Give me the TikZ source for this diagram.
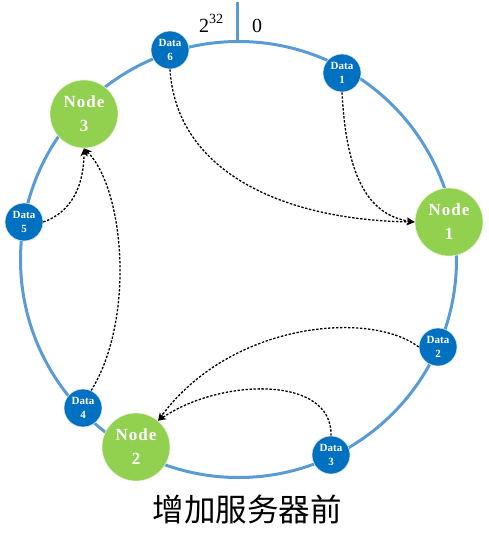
\documentclass[tikz,border=0pt]{standalone}
\usepackage{fontspec}
\setmainfont{Liberation Serif}
\newfontfamily\cjkfont{Noto Sans CJK SC}
\newfontfamily\nodefnt[LetterSpace=6]{Liberation Serif}
\usetikzlibrary{arrows.meta}
\definecolor{ringblue}{RGB}{91,155,213}
\definecolor{datablue}{RGB}{0,112,192}
\definecolor{nodegreen}{RGB}{146,208,80}
\begin{document}
\begin{tikzpicture}[x=1pt,y=-1pt,
  ring/.style={draw=ringblue,line width=3pt},
  datanode/.style={circle,fill=datablue,draw=white!85!datablue,line width=0.6pt,minimum size=38pt,inner sep=0pt,text=white,font=\fontsize{11}{14}\selectfont\bfseries,align=center},
  servernode/.style={circle,fill=nodegreen,draw=white!80!nodegreen,line width=0.6pt,minimum size=68pt,inner sep=0pt,text=white,font=\nodefnt\fontsize{17}{24}\selectfont\bfseries,align=center},
  link/.style={draw=black,line width=1.3pt,dash pattern=on 2.4pt off 1.6pt,-{Stealth[length=8pt,width=7pt]}},
  lbl/.style={font=\fontsize{20}{20}\selectfont,inner sep=0pt}
]
\useasboundingbox (0,0) rectangle (488,543);
% ring and zero mark
\draw[ring] (238.5,259.5) circle[radius=218];
\coordinate (ticktop) at (237,2);
\coordinate (tickbot) at (237,42);
\draw[ring] (ticktop) -- (tickbot);
\node[lbl,anchor=base west] (l232) at (199,33) {2\raisebox{9pt}{\fontsize{14}{14}\selectfont 32}};
\node[lbl,anchor=base west] (l0) at (252,33) {0};
% servers
\node[servernode] (n1) at (449,222) {Node\\1};
\node[servernode] (n2) at (136,447) {Node\\2};
\node[servernode] (n3) at (84,114) {Node\\3};
% data
\node[datanode] (d1) at (342,73) {Data\\1};
\node[datanode] (d2) at (438,347) {Data\\2};
\node[datanode] (d3) at (331,455) {Data\\3};
\node[datanode] (d4) at (83,408) {Data\\4};
\node[datanode] (d5) at (24,222) {Data\\5};
\node[datanode] (d6) at (170,50) {Data\\6};
% mappings
\draw[link] (d6.south) .. controls (176,170) and (280,220) .. (n1.west);
\draw[link] (d1.south) .. controls (346,170) and (365,215) .. (n1.west);
\draw[link] (d5.east) .. controls (72,212) and (84,185) .. (n3.south);
\draw[link] (d4.65) .. controls (135,320) and (125,190) .. (n3.south);
\draw[link] (d2.west) .. controls (370,310) and (230,322) .. (n2.50);
\draw[link] (d3.north) .. controls (333,375) and (220,378) .. (n2.50);
% caption
\node[font=\cjkfont\fontsize{31.5}{32}\selectfont,inner sep=0pt] (title) at (247,509) {增加服务器前};
\end{tikzpicture}
\end{document}
